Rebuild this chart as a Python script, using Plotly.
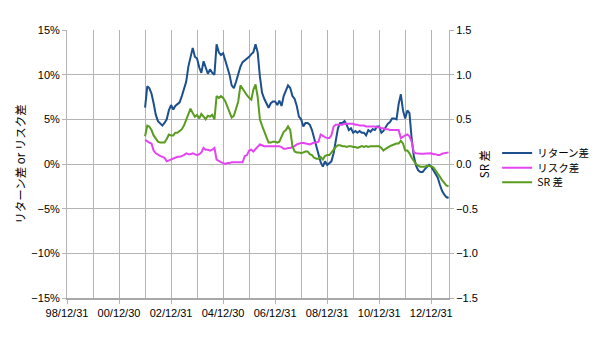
import pandas as pd
import plotly.graph_objects as go

# Monthly observation dates (month-end), Dec 2001 .. Aug 2013
dates = pd.date_range("2001-12-31", "2013-08-31", freq="ME")

# リターン差 (%)
return_diff = [
    6.3, 8.7, 8.5, 7.9, 6.8, 5.5, 4.8, 4.5, 4.3, 4.6, 5.0, 6.0,
    6.6, 6.1, 6.5, 6.7, 6.9, 7.6, 8.3, 9.2, 10.9, 12.1, 13.0, 12.0,
    11.8, 10.8, 10.2, 11.5, 10.7, 10.1, 10.6, 10.2, 10.0, 13.4, 12.5, 12.2,
    12.4, 11.5, 11.0, 10.0, 8.8, 8.5, 9.2, 10.2, 10.9, 11.4, 11.6, 11.7,
    12.0, 12.3, 12.5, 13.4, 12.5, 9.8, 8.0, 7.3, 6.8, 6.3, 6.8, 7.0,
    7.0, 6.6, 7.1, 6.5, 7.6, 8.3, 8.8, 8.5, 7.6, 7.3, 6.5, 5.3,
    5.0, 4.2, 4.6, 4.6, 4.4, 3.8, 2.9, 2.0, 1.0, 0.2, -0.3, 0.3,
    -0.1, 0.1, 0.3, 1.2, 2.8, 4.0, 4.6, 4.6, 4.8, 4.4, 3.8, 4.0,
    3.5, 3.7, 3.5, 3.7, 3.5, 3.5, 3.2, 3.8, 3.6, 3.9, 3.8, 4.2,
    4.2, 3.5, 3.7, 4.2, 4.5, 4.7, 5.1, 5.1, 5.0, 6.7, 7.8, 6.0,
    5.1, 6.0, 5.7, 2.8, 0.9, -0.2, -0.7, -0.9, -0.9, -0.6, -0.4, -0.1,
    -0.3, -0.7, -1.0, -1.5, -2.3, -3.0, -3.4, -3.7, -3.8,
]

# リスク差 (%)
risk_diff = [
    2.7, 2.5, 2.4, 2.3, 1.5, 1.2, 1.0, 0.9, 0.8, 0.7, 0.3, 0.4,
    0.5, 0.6, 0.7, 0.8, 0.8, 0.9, 1.0, 1.2, 1.1, 1.1, 1.2, 1.1,
    1.0, 1.1, 1.3, 1.8, 1.6, 1.6, 1.5, 1.6, 1.8, 0.5, 0.3, 0.2,
    0.1, 0.0, 0.1, 0.1, 0.2, 0.2, 0.2, 0.2, 0.2, 0.2, 0.9, 1.0,
    1.5, 1.6, 1.4, 1.7, 1.9, 2.2, 2.1, 2.0, 2.0, 2.0, 2.0, 2.0,
    2.0, 2.0, 2.0, 1.9, 1.7, 1.7, 1.8, 1.8, 1.9, 2.0, 2.2, 2.3,
    2.35, 2.35, 2.3, 2.3, 2.2, 2.3, 2.4, 2.4, 2.5, 3.3, 3.1, 3.0,
    2.9, 2.9, 3.2, 4.2, 4.4, 4.4, 4.4, 4.4, 4.5, 4.5, 4.5, 4.5,
    4.5, 4.4, 4.4, 4.3, 4.3, 4.3, 4.2, 4.2, 4.2, 4.2, 4.2, 4.1,
    4.1, 4.0, 4.0, 3.9, 3.9, 3.8, 3.8, 3.8, 3.8, 3.8, 2.9, 3.1,
    3.2, 3.3, 3.1, 2.5, 1.3, 1.2, 1.15, 1.15, 1.15, 1.15, 1.2, 1.2,
    1.2, 1.1, 1.1, 1.0, 1.0, 1.15, 1.2, 1.2, 1.3,
]

# SR 差 (right axis)
sr_diff = [
    0.31, 0.43, 0.42, 0.38, 0.32, 0.28, 0.25, 0.24, 0.24, 0.24, 0.28, 0.33,
    0.32, 0.32, 0.35, 0.35, 0.37, 0.39, 0.43, 0.50, 0.56, 0.62, 0.57, 0.53,
    0.55, 0.51, 0.56, 0.53, 0.50, 0.54, 0.53, 0.55, 0.50, 0.76, 0.74, 0.76,
    0.74, 0.70, 0.64, 0.57, 0.52, 0.54, 0.63, 0.70, 0.88, 0.84, 0.81, 0.77,
    0.74, 0.72, 0.83, 0.89, 0.75, 0.50, 0.43, 0.37, 0.29, 0.24, 0.24, 0.25,
    0.25, 0.24, 0.25, 0.30, 0.36, 0.38, 0.42, 0.38, 0.20, 0.14, 0.13, 0.13,
    0.12, 0.13, 0.14, 0.14, 0.11, 0.10, 0.07, 0.06, 0.06, 0.08, 0.05, 0.09,
    0.10, 0.10, 0.13, 0.16, 0.19, 0.21, 0.21, 0.20, 0.20, 0.19, 0.20, 0.20,
    0.19, 0.19, 0.18, 0.19, 0.20, 0.19, 0.20, 0.19, 0.20, 0.20, 0.20, 0.205,
    0.20, 0.18, 0.15, 0.17, 0.19, 0.20, 0.21, 0.22, 0.23, 0.23, 0.26, 0.23,
    0.15, 0.15, 0.12, 0.07, 0.03, 0.00, -0.02, -0.03, -0.03, -0.03, -0.02, -0.02,
    -0.025, -0.04, -0.07, -0.10, -0.14, -0.18, -0.21, -0.24, -0.25,
]

tick_dates = ["1998-12-31", "2000-12-30", "2002-12-31", "2004-12-30",
              "2006-12-31", "2008-12-31", "2010-12-31", "2012-12-31"]
tick_labels = ["98/12/31", "00/12/30", "02/12/31", "04/12/30",
               "06/12/31", "08/12/31", "10/12/31", "12/12/31"]

GRID = "#b4b4b4"
FONT = "Liberation Sans, Arial, Noto Sans CJK JP, sans-serif"
JFONT = "Noto Sans CJK JP, Liberation Sans, sans-serif"

fig = go.Figure()
fig.add_trace(go.Scatter(x=dates, y=return_diff, name="リターン差", mode="lines",
                         legend="legend",
                         line=dict(color="#1b4f8e", width=2)))
fig.add_trace(go.Scatter(x=dates, y=risk_diff, name="リスク差", mode="lines",
                         legend="legend2",
                         line=dict(color="#e444f2", width=2)))
fig.add_trace(go.Scatter(x=dates, y=sr_diff, name="SR 差", mode="lines", yaxis="y2",
                         legend="legend3",
                         line=dict(color="#5a9c1f", width=2)))

leg_common = dict(x=1.126, xanchor="left", yanchor="middle",
                  font=dict(size=10.5, family=JFONT),
                  itemwidth=30, bgcolor="rgba(0,0,0,0)", borderwidth=0)

fig.update_layout(
    width=600, height=337,
    margin=dict(l=67, r=151, t=30, b=39, autoexpand=False),
    paper_bgcolor="white", plot_bgcolor="white",
    font=dict(family=FONT, size=11, color="#000000"),
    showlegend=True,
    legend=dict(y=0.541, **leg_common),
    legend2=dict(y=0.486, **leg_common),
    legend3=dict(y=0.432, **leg_common),
    xaxis=dict(
        type="date",
        range=["1998-12-31", "2013-09-06"],
        tickmode="array", tickvals=tick_dates, ticktext=tick_labels,
        showgrid=True, gridcolor=GRID, gridwidth=1,
        ticks="outside", ticklen=4, tickcolor=GRID,
        minor=dict(dtick="M12", tick0="1998-12-31", showgrid=True,
                   gridcolor=GRID, gridwidth=1, ticks=""),
        showline=True, linecolor="#a8a8a8", linewidth=2,
        zeroline=False, automargin=False,
        tickfont=dict(size=11),
    ),
    yaxis=dict(
        range=[-15, 15], tickmode="linear", tick0=-15, dtick=5,
        ticksuffix="%",
        showgrid=True, gridcolor=GRID, gridwidth=1,
        zeroline=False, automargin=False,
        ticks="outside", ticklen=4, tickcolor=GRID,
        showline=True, linecolor=GRID, linewidth=1,
        title=dict(text="リターン差 or リスク差", standoff=3,
                   font=dict(size=11.5, family=JFONT)),
        tickfont=dict(size=11),
    ),
    yaxis2=dict(
        overlaying="y", side="right",
        range=[-1.5, 1.5], tickmode="linear", tick0=-1.5, dtick=0.5,
        tickformat=".1f",
        showgrid=False, zeroline=False, automargin=False,
        ticks="outside", ticklen=4, tickcolor=GRID,
        showline=True, linecolor=GRID, linewidth=1,
        title=dict(text="SR 差", standoff=4,
                   font=dict(size=11.5, family=JFONT)),
        tickfont=dict(size=11),
    ),
)

fig.write_html("out.html")
